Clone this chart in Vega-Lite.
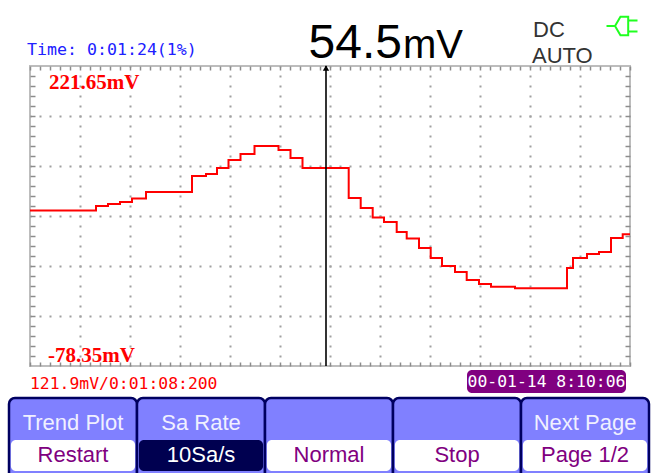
{
"$schema":"https://vega.github.io/schema/vega-lite/v6.json",
"width":600,"height":300,"autosize":"none",
"padding":{"left":30,"top":66,"right":23,"bottom":107},
"background":"white",
"config":{"view":{"stroke":"#bdbdbd","strokeWidth":2},"axis":{"title":null,"labels":false,"domain":false}},
"datasets":{
"trace":[{"sample":0,"mV":77.15},{"sample":66,"mV":81.65},{"sample":78,"mV":83.65},{"sample":90,"mV":85.65},{"sample":102,"mV":89.15},{"sample":116,"mV":95.65},{"sample":162,"mV":111.65},{"sample":176,"mV":113.65},{"sample":187,"mV":119.65},{"sample":198.5,"mV":127.65},{"sample":210.5,"mV":133.65},{"sample":224.5,"mV":141.65},{"sample":248.5,"mV":137.65},{"sample":260.5,"mV":129.65},{"sample":272.5,"mV":119.65},{"sample":318.7,"mV":89.65},{"sample":330.7,"mV":79.65},{"sample":342.7,"mV":70.15},{"sample":354,"mV":65.65},{"sample":366.7,"mV":55.65},{"sample":376.7,"mV":49.15},{"sample":389,"mV":39.65},{"sample":400.7,"mV":29.65},{"sample":412,"mV":21.65},{"sample":425,"mV":15.65},{"sample":436.7,"mV":7.65},{"sample":449,"mV":3.65},{"sample":461,"mV":0.95},{"sample":485,"mV":-0.65},{"sample":537,"mV":19.65},{"sample":543,"mV":29.65},{"sample":557,"mV":33.65},{"sample":569,"mV":35.65},{"sample":581,"mV":49.65},{"sample":592.7,"mV":53.35},{"sample":600,"mV":53.35}],
"keys":[{"slot":"F1","title":"Trend Plot","value":"Restart"},{"slot":"F2","title":"Sa Rate","value":"10Sa/s"},{"slot":"F3","title":"","value":"Normal"},{"slot":"F4","title":"","value":"Stop"},{"slot":"F5","title":"Next Page","value":"Page 1/2"}],
"note":[{"scope":"annotation"}]
},
"resolve":{"scale":{"x":"independent"},"axis":{"x":"independent"}},
"layer":[
{"resolve":{"axis":{"x":"independent","y":"independent"}},
"data":{"name":"note"},
"layer":[
{"data":{"name":"trace"},
"mark":{"type":"line","interpolate":"step-after","color":"#ff0000","strokeWidth":2},
"encoding":{
"x":{"field":"sample","type":"quantitative","scale":{"domain":[0,600]},"axis":{"orient":"bottom","values":[0,10,20,30,40,50,60,70,80,90,100,110,120,130,140,150,160,170,180,190,200,210,220,230,240,250,260,270,280,290,300,310,320,330,340,350,360,370,380,390,400,410,420,430,440,450,460,470,480,490,500,510,520,530,540,550,560,570,580,590,600],"tickSize":-4,"tickColor":"#8c8c8c","tickWidth":1.5,"grid":false}},
"y":{"field":"mV","type":"quantitative","scale":{"domain":[-78.35,221.65]},"axis":{"orient":"left","values":[-68.35,-58.35,-48.35,-38.35,-28.35,-18.35,-8.35,1.65,11.65,21.65,31.65,41.65,51.65,61.65,71.65,81.65,91.65,101.65,111.65,121.65,131.65,141.65,151.65,161.65,171.65,181.65,191.65,201.65,211.65],"tickSize":-5,"tickColor":"#8c8c8c","tickWidth":1.5,"grid":false}}
}},
{"mark":{"type":"rule","color":"#000000","strokeWidth":1.6},
"encoding":{
"x":{"datum":296,"type":"quantitative","scale":{"domain":[0,600]},"axis":{"orient":"top","values":[0,10,20,30,40,50,60,70,80,90,100,110,120,130,140,150,160,170,180,190,200,210,220,230,240,250,260,270,280,290,300,310,320,330,340,350,360,370,380,390,400,410,420,430,440,450,460,470,480,490,500,510,520,530,540,550,560,570,580,590,600],"tickSize":-4,"tickColor":"#8c8c8c","tickWidth":1.5,"grid":false}},
"y":{"datum":221.65,"type":"quantitative","scale":{"domain":[-78.35,221.65]},"axis":{"orient":"right","values":[-68.35,-58.35,-48.35,-38.35,-28.35,-18.35,-8.35,1.65,11.65,21.65,31.65,41.65,51.65,61.65,71.65,81.65,91.65,101.65,111.65,121.65,131.65,141.65,151.65,161.65,171.65,181.65,191.65,201.65,211.65],"tickSize":-5,"tickColor":"#8c8c8c","tickWidth":1.5,"grid":false}},
"y2":{"datum":-78.35}
}},
{"mark":{"type":"point","shape":"triangle-up","filled":true,"color":"#000000","size":40,"opacity":1},
"encoding":{"x":{"datum":296,"type":"quantitative","scale":{"domain":[0,600]},"axis":null},"y":{"datum":219.65,"type":"quantitative","scale":{"domain":[-78.35,221.65]},"axis":null}}},
{"mark":{"type":"text","text":"221.65mV","font":"Liberation Serif","fontWeight":"bold","fontSize":21,"color":"#ff0000","align":"left","baseline":"alphabetic"},
"encoding":{
"x":{"datum":19,"type":"quantitative","scale":{"domain":[0,600]},"axis":{"orient":"bottom","values":[50,100,150,200,250,300,350,400,450,500,550],"ticks":false,"grid":true,"gridColor":"#a0a0a0","gridWidth":2,"gridDash":[2,8],"gridDashOffset":1}},
"y":{"datum":198.65,"type":"quantitative","scale":{"domain":[-78.35,221.65]},"axis":{"orient":"left","values":[-28.35,21.65,71.65,121.65,171.65],"ticks":false,"grid":true,"gridColor":"#a0a0a0","gridWidth":2,"gridDash":[2,8],"gridDashOffset":1}}
}},
{"mark":{"type":"text","text":"-78.35mV","font":"Liberation Serif","fontWeight":"bold","fontSize":21,"color":"#ff0000","align":"left","baseline":"alphabetic"},
"encoding":{"x":{"datum":18,"type":"quantitative","scale":{"domain":[0,600]},"axis":null},"y":{"datum":-74.35,"type":"quantitative","scale":{"domain":[-78.35,221.65]},"axis":null}}},
{"mark":{"type":"text","text":"Time: 0:01:24(1%)","font":"DejaVu Sans Mono","fontSize":16.6,"color":"#2020ff","align":"left","baseline":"alphabetic"},
"encoding":{"x":{"datum":-3,"type":"quantitative","scale":{"domain":[0,600]},"axis":null},"y":{"datum":232.65,"type":"quantitative","scale":{"domain":[-78.35,221.65]},"axis":null}}},
{"mark":{"type":"text","text":"54.5","font":"Liberation Sans","fontSize":48,"color":"#000000","align":"right","baseline":"alphabetic"},
"encoding":{"x":{"datum":372,"type":"quantitative","scale":{"domain":[0,600]},"axis":null},"y":{"datum":229.65,"type":"quantitative","scale":{"domain":[-78.35,221.65]},"axis":null}}},
{"mark":{"type":"text","text":"mV","font":"Liberation Sans","fontSize":40,"color":"#000000","align":"left","baseline":"alphabetic"},
"encoding":{"x":{"datum":373,"type":"quantitative","scale":{"domain":[0,600]},"axis":null},"y":{"datum":229.65,"type":"quantitative","scale":{"domain":[-78.35,221.65]},"axis":null}}},
{"mark":{"type":"text","text":"DC","font":"Liberation Sans","fontSize":22,"color":"#333333","align":"left","baseline":"alphabetic"},
"encoding":{"x":{"datum":503,"type":"quantitative","scale":{"domain":[0,600]},"axis":null},"y":{"datum":250.65,"type":"quantitative","scale":{"domain":[-78.35,221.65]},"axis":null}}},
{"mark":{"type":"text","text":"AUTO","font":"Liberation Sans","fontSize":22,"color":"#333333","align":"left","baseline":"alphabetic"},
"encoding":{"x":{"datum":502,"type":"quantitative","scale":{"domain":[0,600]},"axis":null},"y":{"datum":224.65,"type":"quantitative","scale":{"domain":[-78.35,221.65]},"axis":null}}},
{"mark":{"type":"point","shape":"M-1,0 H-0.45 L-0.1,-0.6 H0.4 V0.6 H-0.1 L-0.45,0 M0.4,-0.35 H1 M0.4,0.35 H1","size":961,"filled":false,"color":"#20ff20","strokeWidth":2,"opacity":1},
"encoding":{"x":{"datum":592,"type":"quantitative","scale":{"domain":[0,600]},"axis":null},"y":{"datum":261.65,"type":"quantitative","scale":{"domain":[-78.35,221.65]},"axis":null}}},
{"mark":{"type":"text","text":"121.9mV/0:01:08:200","font":"DejaVu Sans Mono","fontSize":16.4,"color":"#ff0000","align":"left","baseline":"alphabetic"},
"encoding":{"x":{"datum":0,"type":"quantitative","scale":{"domain":[0,600]},"axis":null},"y":{"datum":-101.35,"type":"quantitative","scale":{"domain":[-78.35,221.65]},"axis":null}}},
{"mark":{"type":"rect","color":"#800080","cornerRadius":5},
"encoding":{"x":{"datum":437,"type":"quantitative","scale":{"domain":[0,600]},"axis":null},"x2":{"datum":596},"y":{"datum":-82.35,"type":"quantitative","scale":{"domain":[-78.35,221.65]},"axis":null},"y2":{"datum":-105.35}}},
{"mark":{"type":"text","text":"00-01-14 8:10:06","font":"DejaVu Sans Mono","fontSize":16.4,"color":"#ffffff","align":"center","baseline":"middle"},
"encoding":{"x":{"datum":516.5,"type":"quantitative","scale":{"domain":[0,600]},"axis":null},"y":{"datum":-94.35,"type":"quantitative","scale":{"domain":[-78.35,221.65]},"axis":null}}}
]},
{"data":{"name":"keys"},
"encoding":{"x":{"field":"slot","type":"nominal","sort":null,"scale":{"type":"band","range":[-21,619],"paddingInner":0,"paddingOuter":0},"axis":null}},
"layer":[
{"mark":{"type":"rect","fill":"#8080ff","stroke":"#000060","strokeWidth":2.5,"cornerRadius":6},
"encoding":{"y":{"datum":-110.35,"type":"quantitative","scale":{"domain":[-78.35,221.65]},"axis":null},"y2":{"datum":-192}}},
{"mark":{"type":"rect","cornerRadius":5,"width":{"band":0.97}},
"encoding":{"y":{"datum":-152.35,"type":"quantitative","scale":{"domain":[-78.35,221.65]},"axis":null},"y2":{"datum":-183.35},
"color":{"condition":{"test":"datum.value === '10Sa/s'","value":"#000050"},"value":"#ffffff"}}},
{"mark":{"type":"text","font":"Liberation Sans","fontSize":22,"color":"#f0f0ff","align":"center","baseline":"middle"},
"encoding":{"y":{"datum":-135.35,"type":"quantitative","scale":{"domain":[-78.35,221.65]},"axis":null},"text":{"field":"title"}}},
{"mark":{"type":"text","font":"Liberation Sans","fontSize":22,"align":"center","baseline":"middle"},
"encoding":{"y":{"datum":-167.35,"type":"quantitative","scale":{"domain":[-78.35,221.65]},"axis":null},"text":{"field":"value"},
"color":{"condition":{"test":"datum.value === '10Sa/s'","value":"#ffffff"},"value":"#800080"}}}
]}
]
}
